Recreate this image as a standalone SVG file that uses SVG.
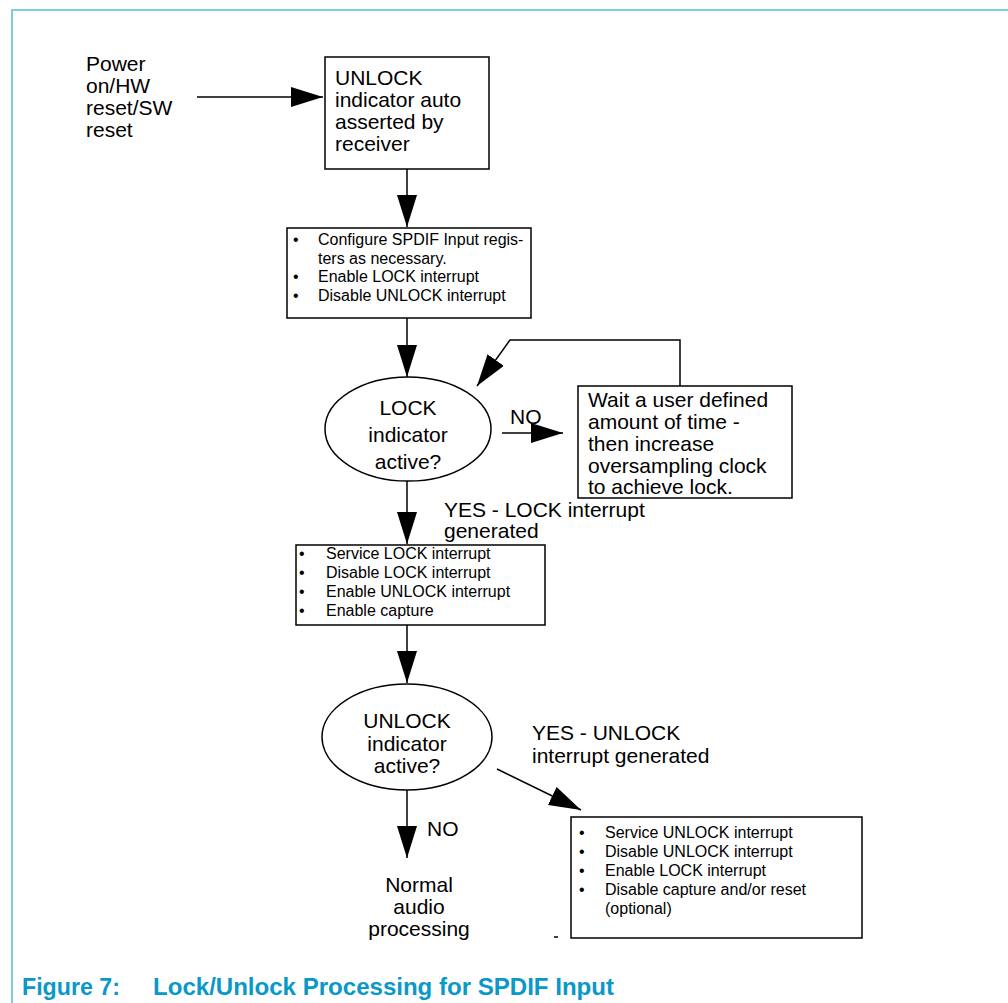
<svg xmlns="http://www.w3.org/2000/svg" width="1008" height="1003" viewBox="0 0 1008 1003">
<defs>
<marker id="ah" viewBox="0 0 32 20" refX="32" refY="10" markerWidth="32" markerHeight="20" markerUnits="userSpaceOnUse" orient="auto">
<path d="M0,0 L32,10 L0,20 z" fill="#000"/>
</marker>
<style>
.t{font-family:"Liberation Sans",Arial,sans-serif;font-size:21px;fill:#000}
.s{font-family:"Liberation Sans",Arial,sans-serif;font-size:16px;fill:#000}
.c{text-anchor:middle}
.box{fill:#fff;stroke:#000;stroke-width:1.5}
.ln{fill:none;stroke:#000;stroke-width:1.5}
.cap{font-family:"Liberation Sans",Arial,sans-serif;font-size:23px;font-weight:bold;fill:#0a98c9}
</style>
</defs>
<rect width="1008" height="1003" fill="#fff"/>
<path d="M12,1003 L12,10 L1008,10" fill="none" stroke="#7fcfe0" stroke-width="2"/>

<g id="connectors">
<line class="ln" x1="197" y1="97" x2="323" y2="97" marker-end="url(#ah)"/>
<line class="ln" x1="407" y1="169" x2="407" y2="227" marker-end="url(#ah)"/>
<line class="ln" x1="407" y1="318" x2="407" y2="377" marker-end="url(#ah)"/>
<line class="ln" x1="502" y1="433" x2="563" y2="433" marker-end="url(#ah)"/>
<polyline class="ln" points="680,386 680,340 510,340 477,386" marker-end="url(#ah)"/>
<line class="ln" x1="407" y1="481" x2="407" y2="544" marker-end="url(#ah)"/>
<line class="ln" x1="407" y1="625" x2="407" y2="683" marker-end="url(#ah)"/>
<line class="ln" x1="497" y1="769" x2="581" y2="810" marker-end="url(#ah)"/>
<line class="ln" x1="407" y1="790" x2="407" y2="858" marker-end="url(#ah)"/>
<line class="ln" x1="554" y1="937" x2="558" y2="937"/>
</g>

<g id="start">
<text class="t" x="86" y="71">Power</text>
<text class="t" x="86" y="93">on/HW</text>
<text class="t" x="86" y="115">reset/SW</text>
<text class="t" x="86" y="137">reset</text>
</g>

<g id="unlock-asserted">
<rect class="box" x="325" y="57" width="164" height="112"/>
<text class="t" x="335" y="85">UNLOCK</text>
<text class="t" x="335" y="107">indicator auto</text>
<text class="t" x="335" y="129">asserted by</text>
<text class="t" x="335" y="151">receiver</text>
</g>

<g id="configure">
<rect class="box" x="287" y="228" width="244" height="90"/>
<text class="s" x="293" y="245">•</text><text class="s" x="318" y="245">Configure SPDIF Input regis-</text>
<text class="s" x="318" y="263.5">ters as necessary.</text>
<text class="s" x="293" y="282">•</text><text class="s" x="318" y="282">Enable LOCK interrupt</text>
<text class="s" x="293" y="300.5">•</text><text class="s" x="318" y="300.5">Disable UNLOCK interrupt</text>
</g>

<g id="lock-decision">
<ellipse class="box" cx="408" cy="429" rx="83" ry="52"/>
<text class="t c" x="408" y="415">LOCK</text>
<text class="t c" x="408" y="442">indicator</text>
<text class="t c" x="408" y="469">active?</text>
</g>
<text class="t" x="510" y="424">NO</text>

<g id="wait">
<rect class="box" x="578" y="386" width="214" height="112"/>
<text class="t" x="588" y="407">Wait a user defined</text>
<text class="t" x="588" y="429">amount of time -</text>
<text class="t" x="588" y="451">then increase</text>
<text class="t" x="588" y="473">oversampling clock</text>
<text class="t" x="588" y="494">to achieve lock.</text>
</g>

<text class="t" x="444" y="517">YES - LOCK interrupt</text>
<text class="t" x="444" y="538">generated</text>

<g id="service-lock">
<rect class="box" x="296" y="545" width="249" height="80"/>
<text class="s" x="299" y="558.5">•</text><text class="s" x="326" y="558.5">Service LOCK interrupt</text>
<text class="s" x="299" y="577.5">•</text><text class="s" x="326" y="577.5">Disable LOCK interrupt</text>
<text class="s" x="299" y="596.5">•</text><text class="s" x="326" y="596.5">Enable UNLOCK interrupt</text>
<text class="s" x="299" y="615.5">•</text><text class="s" x="326" y="615.5">Enable capture</text>
</g>

<g id="unlock-decision">
<ellipse class="box" cx="407" cy="737" rx="85" ry="53"/>
<text class="t c" x="407" y="728">UNLOCK</text>
<text class="t c" x="407" y="751">indicator</text>
<text class="t c" x="407" y="773">active?</text>
</g>

<text class="t" x="532" y="740">YES - UNLOCK</text>
<text class="t" x="532" y="763">interrupt generated</text>
<text class="t" x="427" y="836">NO</text>

<g id="normal">
<text class="t c" x="419" y="892">Normal</text>
<text class="t c" x="419" y="914">audio</text>
<text class="t c" x="419" y="936">processing</text>
</g>

<g id="service-unlock">
<rect class="box" x="571" y="817" width="291" height="121"/>
<text class="s" x="579" y="837.5">•</text><text class="s" x="605" y="837.5">Service UNLOCK interrupt</text>
<text class="s" x="579" y="856.5">•</text><text class="s" x="605" y="856.5">Disable UNLOCK interrupt</text>
<text class="s" x="579" y="875.5">•</text><text class="s" x="605" y="875.5">Enable LOCK interrupt</text>
<text class="s" x="579" y="894.5">•</text><text class="s" x="605" y="894.5">Disable capture and/or reset</text>
<text class="s" x="605" y="913.5">(optional)</text>
</g>

<g id="caption">
<text class="cap" x="22" y="995" textLength="98" lengthAdjust="spacingAndGlyphs">Figure 7:</text>
<text class="cap" x="153" y="995" textLength="461" lengthAdjust="spacingAndGlyphs">Lock/Unlock Processing for SPDIF Input</text>
</g>
</svg>
